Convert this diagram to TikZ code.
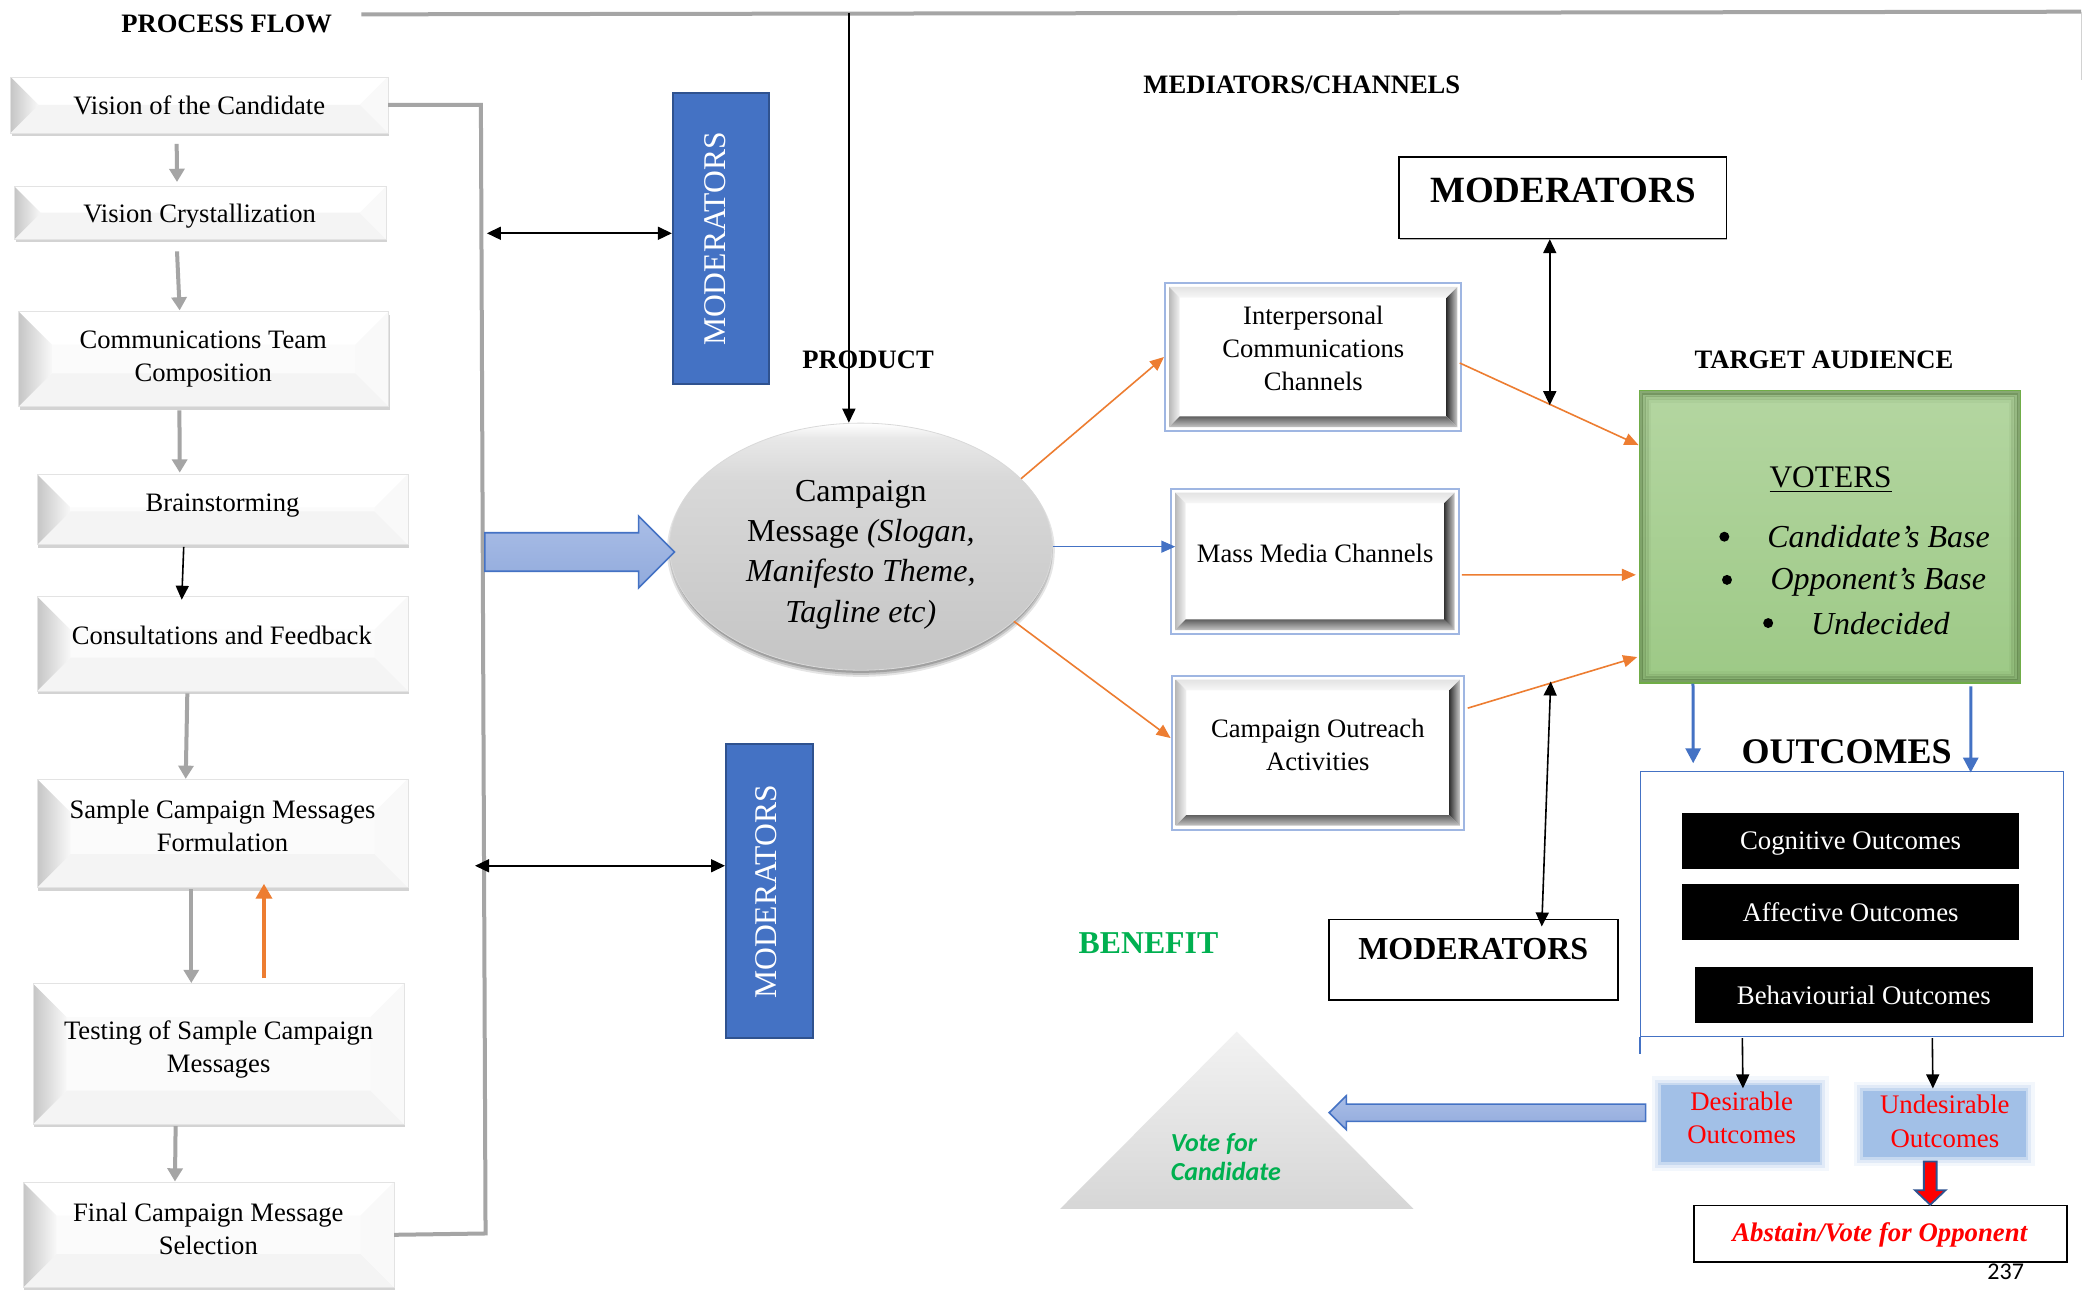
\documentclass[tikz,border=0pt]{standalone}
\usepackage{fontspec}
\setmainfont{Liberation Serif}
\newfontfamily\calfont{Carlito}
\usetikzlibrary{calc,fit,shapes.geometric,arrows.meta,shadows}

\definecolor{flowgray}{HTML}{A5A5A5}
\definecolor{orng}{HTML}{ED7D31}
\definecolor{mblue}{HTML}{4472C4}
\definecolor{dblue}{HTML}{2F528F}
\definecolor{frameblue}{HTML}{9FB6E2}
\definecolor{arrowfill}{HTML}{91AADC}
\definecolor{arrowfilltop}{HTML}{AABEE7}
\definecolor{benefitgreen}{HTML}{00B050}
\definecolor{gborder}{HTML}{70AD47}
\definecolor{gtop}{HTML}{B4D6A1}
\definecolor{gbot}{HTML}{9DC986}
\definecolor{gdark}{HTML}{385723}
\definecolor{outcomeblue}{HTML}{A2C0E7}
\definecolor{alertred}{HTML}{FF0000}

\colorlet{ellA}{gray!46}
\colorlet{ellB}{gray!38}
\colorlet{ellC}{gray!30}
\colorlet{ellD}{gray!18}
\pgfdeclareverticalshading{ellgray}{100bp}{color(0bp)=(ellA); color(25bp)=(ellA); color(45bp)=(ellB); color(64bp)=(ellC); color(72bp)=(ellD); color(75bp)=(white); color(100bp)=(white)}

% one unit = one pixel of the layout grid
\newcommand\upx{0.6642pt}

% horizontal block arrow: [style]{from}{to}{shaft half width}{head half width}{head length}
\newcommand\hblockarrow[6][]{%
  \draw[#1] ($(#2)+(0,{-(#4)})$) -- ($(#3)+({-(#6)},{-(#4)})$) -- ($(#3)+({-(#6)},{-(#5)})$)
    -- (#3) -- ($(#3)+({-(#6)},#5)$) -- ($(#3)+({-(#6)},#4)$) -- ($(#2)+(0,#4)$) -- cycle;}
% vertical block arrow, same arguments
\newcommand\vblockarrow[6][]{%
  \draw[#1] ($(#2)+({-(#4)},0)$) -- ($(#3)+({-(#4)},{-(#6)})$) -- ($(#3)+({-(#5)},{-(#6)})$)
    -- (#3) -- ($(#3)+(#5,{-(#6)})$) -- ($(#3)+(#4,{-(#6)})$) -- ($(#2)+(#4,0)$) -- cycle;}

\begin{document}
\begin{tikzpicture}[x=\upx, y=-\upx,
  % bevelled process step box, #1 = bevel depth
  lbox/.style={fill=gray!3, draw=gray!22, line width=0.3pt, inner sep=0pt,
    drop shadow={shadow xshift=0.6pt, shadow yshift=-1.6pt, opacity=0.45, fill=gray!75},
    path picture={
      \path (path picture bounding box.north west) coordinate (pnw)
            (path picture bounding box.north east) coordinate (pne)
            (path picture bounding box.south east) coordinate (pse)
            (path picture bounding box.south west) coordinate (psw);
      \fill[white] (pnw) -- ($(pnw)+(#1,#1)$) -- ($(pne)+(-#1,#1)$) -- (pne) -- cycle;
      \fill[gray!9] (psw) -- ($(psw)+(#1,-#1)$) -- ($(pse)+(-#1,-#1)$) -- (pse) -- cycle;
      \fill[gray!5] (pne) -- ($(pne)+(-#1,#1)$) -- ($(pse)+(-#1,-#1)$) -- (pse) -- cycle;
      \shade[left color=gray!45, right color=gray!5] (pnw) -- ($(pnw)+(#1,#1)$) -- ($(psw)+(#1,-#1)$) -- (psw) -- cycle;
    }},
  % channel box with a bevelled frame
  chbox/.style={draw=frameblue, line width=1.1pt, fill=white, inner sep=0pt,
    path picture={
      \path (path picture bounding box.north west) coordinate (pnw)
            (path picture bounding box.north east) coordinate (pne)
            (path picture bounding box.south east) coordinate (pse)
            (path picture bounding box.south west) coordinate (psw);
      \path ($(pnw)+(3,3)$) coordinate (qA) ($(pne)+(-3,3)$) coordinate (qB)
            ($(pse)+(-3,-3)$) coordinate (qC) ($(psw)+(3,-3)$) coordinate (qD)
            ($(pnw)+(11,11)$) coordinate (qa) ($(pne)+(-11,11)$) coordinate (qb)
            ($(pse)+(-11,-11)$) coordinate (qc) ($(psw)+(11,-11)$) coordinate (qd);
      \shade[top color=gray!22, bottom color=gray!6] (qA) -- (qB) -- (qb) -- (qa) -- cycle;
      \shade[left color=gray!55, right color=gray!10] (qA) -- (qa) -- (qd) -- (qD) -- cycle;
      \shade[left color=black!80, right color=gray!40] (qb) -- (qB) -- (qC) -- (qc) -- cycle;
      \shade[top color=black!62, bottom color=gray!45] (qd) -- (qc) -- (qC) -- (qD) -- cycle;
    }},
  tabox/.style={draw=gborder, line width=0.8pt, top color=gtop, bottom color=gbot, inner sep=0pt,
    path picture={
      \path (path picture bounding box.north west) coordinate (pnw)
            (path picture bounding box.south east) coordinate (pse);
      \foreach \k/\o in {1.5/0.36, 3.5/0.22, 5.5/0.12, 7.5/0.05}
        \draw[gdark, opacity=\o, line width=2pt] ($(pnw)+(\k,\k)$) rectangle ($(pse)+(-\k,-\k)$);
    }},
  modbox/.style={fill=mblue, draw=dblue, line width=1pt, inner sep=0pt},
  modtxt/.style={text=white, inner sep=0pt, rotate=90, font=\fontsize{15.8}{18}\selectfont},
  plainbox/.style={draw=black, line width=0.8pt, fill=white, inner sep=0pt},
  obox/.style={fill=black, inner sep=0pt},
  otxt/.style={text=white, inner sep=0pt, text depth=0pt, font=\fontsize{13.4}{16}\selectfont},
  bullet/.style={circle, fill=black, inner sep=0pt, minimum size=7.5*\upx},
  blurbox/.style={fill=outcomeblue, inner sep=0pt,
    preaction={draw=outcomeblue, line width=9pt, opacity=0.12},
    preaction={draw=outcomeblue, line width=5.5pt, opacity=0.22},
    preaction={draw=outcomeblue, line width=2.5pt, opacity=0.4}},
  ltxt/.style={align=center, inner sep=0pt, font=\fontsize{13.3}{16.6}\selectfont},
  hdr/.style={inner sep=0pt, text depth=0pt, font=\bfseries\fontsize{13.3}{16}\selectfont},
  grayline/.style={draw=flowgray, line width=2pt},
  grayarr/.style={draw=flowgray, line width=2pt, -{Triangle[length=6.6pt, width=7.5pt]}},
  blkarr/.style={draw=black, line width=0.8pt, -{Triangle[length=7pt, width=6.5pt]}},
  dblarr/.style={draw=black, line width=0.8pt, {Triangle[length=7pt, width=6.5pt]}-{Triangle[length=7pt, width=6.5pt]}},
  orarr/.style={draw=orng, line width=0.8pt, -{Triangle[length=7pt, width=6pt]}},
  orthick/.style={draw=orng, line width=2pt, -{Triangle[length=7.5pt, width=8pt]}},
  bluearr/.style={draw=mblue, line width=0.8pt, -{Triangle[length=7pt, width=6pt]}},
  bluethick/.style={draw=mblue, line width=1.5pt, -{Triangle[length=7.5pt, width=7.5pt]}},
  blockblue/.style={draw=mblue, line width=0.8pt, top color=arrowfilltop, bottom color=arrowfill},
  redblock/.style={fill=alertred, draw=dblue, line width=0.9pt}
]
\useasboundingbox (0,0) rectangle (1568,972.6);
\fill[white] (0,0) rectangle (1568,972.6);

% ---------------- headings ----------------
\node[hdr] (pf) at (170.6,17.6) {PROCESS FLOW};
\node[hdr] (mc) at (980,64) {MEDIATORS/CHANNELS};
\node[hdr] (pr) at (653.4,271) {PRODUCT};
\node[hdr] (tah) at (1373,271) {TARGET AUDIENCE};
\node[hdr, text=benefitgreen, font=\bfseries\fontsize{15.9}{18}\selectfont] (ben) at (864.5,710) {BENEFIT};
\node[hdr, font=\bfseries\fontsize{18}{20}\selectfont] (outh) at (1390,565.5) {OUTCOMES};

% top rule
\coordinate (hdL) at (272,10.8);
\coordinate (hdR) at (1566.6,8.8);
\coordinate (hdD) at (1566.6,60);
\coordinate (hdP) at (639,9.7);
\draw[grayline] (hdL) -- (hdR);
\draw[gray!35, line width=0.6pt] (hdR) -- (hdD);

% ---------------- process flow ----------------
\node[lbox=21, fit={(8,58) (292,100)}] (b1) {};
\node[ltxt] (b1t) at (150,79) {Vision of the Candidate};
\node[lbox=20, fit={(11,140.5) (290.5,180)}] (b2) {};
\node[ltxt] (b2t) at (150.3,163) {Vision Crystallization};
\node[lbox=25, fit={(14,234.5) (292.5,306)}] (b3) {};
\node[ltxt] (b3t) at (153,270.3) {Communications Team\\Composition};
\node[lbox=25, fit={(28,357) (307,410)}] (b4) {};
\node[ltxt] (b4t) at (167.5,380.6) {Brainstorming};
\node[lbox=25, fit={(28,449) (307,520)}] (b5) {};
\node[ltxt] (b5t) at (167,478) {Consultations and Feedback};
\node[lbox=25, fit={(28,586.5) (307,668)}] (b6) {};
\node[ltxt] (b6t) at (167.5,621.5) {Sample Campaign Messages\\Formulation};
\node[lbox=25, fit={(25,740.5) (304,846)}] (b7) {};
\node[ltxt] (b7t) at (164.6,790) {Testing of Sample Campaign\\Messages};
\node[lbox=25, fit={(17.5,890) (296.5,969)}] (b8) {};
\node[ltxt] (b8t) at (156.8,925) {Final Campaign Message\\Selection};

\draw[grayarr] ($(b1.south)+(-17,8)$) -- ($(b2.north)+(-17.5,-3.3)$);
\draw[grayarr] ($(b2.south)+(-17.5,9)$) -- ($(b3.north)+(-18,-0.6)$);
\draw[grayarr] ($(b3.south)+(-18.2,2.6)$) -- ($(b4.north)+(-32.2,-1)$);
\draw[blkarr] ($(b4.south)+(-29.2,1.5)$) -- ($(b5.north)+(-30.7,2.7)$);
\draw[grayarr] ($(b5.south)+(-26.5,1.7)$) -- ($(b6.north)+(-27.7,0)$);
\draw[grayarr] ($(b6.south)+(-23.5,1)$) -- ($(b7.north)+(-20.5,-0.3)$);
\draw[orthick] ($(b7.north)+(34.2,-4)$) -- ($(b6.south)+(31.2,-3)$);
\draw[grayarr] ($(b7.south)+(-32.3,1.4)$) -- ($(b8.north)+(-25.3,-0.4)$);

% feedback bracket
\coordinate (brT) at (362,79);
\coordinate (brB) at (365.5,928.5);
\draw[grayline] (b1.east) -- (brT) -- (brB) -- (b8.east);

% ---------------- moderators beside the flow ----------------
\node[modbox, fit={(506.5,70.3) (579,289)}] (mod1) {};
\node[modtxt] (mod1t) at (538.3,180) {MODERATORS};
\node[modbox, fit={(546.5,560.3) (612.3,781.6)}] (mod2) {};
\node[modtxt] (mod2t) at (577,671.5) {MODERATORS};
\coordinate (brM1) at (366.5,175.6);
\coordinate (brM2) at (357.6,651.7);
\draw[dblarr] (brM1) -- (brM1 -| mod1.west);
\draw[dblarr] (brM2) -- (brM2 -| mod2.west);

% ---------------- campaign message ----------------
\foreach \r/\o in {5/0.10, 3.5/0.14, 2/0.18}
  \fill[black, opacity=\o] (648,414.5) ellipse [x radius={143+\r-2}, y radius={92+\r-2}];
\node[ellipse, shade, shading=ellgray, draw=gray!30, line width=0.4pt,
      minimum width=288*\upx, minimum height=186*\upx, inner sep=0pt] (ell) at (648,411.5) {};
\node[align=center, inner sep=0pt, font=\fontsize{16}{20.1}\selectfont] (ellt) at (648,417.5)
  {Campaign\\Message \textit{(Slogan,}\\\textit{Manifesto Theme,}\\\textit{Tagline etc)}};

\draw[blkarr] (hdP) -- (hdP |- ell.north);

\coordinate (blkS) at (365,415.5);
\coordinate (blkT) at ($(blkS -| ell.west)+(4,0)$);
\hblockarrow[blockblue]{blkS}{blkT}{14.5}{27}{27}

% ---------------- channels ----------------
\node[chbox, fit={(877,213) (1100,324.5)}] (ip) {};
\node[ltxt] (ipt) at (988.6,262.2) {Interpersonal\\Communications\\Channels};
\node[chbox, fit={(881.5,367.8) (1098,477.3)}] (mm) {};
\node[ltxt] (mmt) at (990,416.5) {Mass Media Channels};
\node[chbox, fit={(882,508.6) (1102,624.5)}] (oa) {};
\node[ltxt] (oat) at (992,561) {Campaign Outreach\\Activities};

\draw[orarr] (ell.23) -- (ip.west);
\draw[bluearr] (ell.east) -- ($(ell.east -| mm.west)+(4,0)$);
\draw[orarr] (ell.-26) -- ($(oa.west)+(0,-11)$);

% ---------------- moderators of the channels ----------------
\node[plainbox, fit={(1053,118) (1299.7,179.4)},
      drop shadow={shadow xshift=0.4pt, shadow yshift=-1pt, opacity=0.6, fill=gray}] (tm) {};
\node[inner sep=0pt, text depth=0pt, font=\bfseries\fontsize{18.5}{20}\selectfont] (tmt) at (1176.6,143) {MODERATORS};
\node[plainbox, fit={(1000.5,692) (1218,752.8)}] (bm) {};
\node[inner sep=0pt, text depth=0pt, font=\bfseries\fontsize{16}{18}\selectfont] (bmt) at (1109,714.5) {MODERATORS};

% ---------------- target audience ----------------
\node[tabox, fit={(1234,294) (1521,514)}] (ta) {};
\node[inner sep=0pt, font=\fontsize{15.7}{18}\selectfont] (vot) at (1378,361) {\underline{VOTERS}};
\node[bullet] (bu1) at (1298,404) {};
\node[bullet] (bu2) at (1300,436.5) {};
\node[bullet] (bu3) at (1331,469) {};
\node[anchor=west, inner sep=0pt, text depth=0pt, font=\itshape\fontsize{16}{18}\selectfont] (it1) at (1330,404) {Candidate’s Base};
\node[anchor=west, inner sep=0pt, text depth=0pt, font=\itshape\fontsize{16}{18}\selectfont] (it2) at (1332.5,436) {Opponent’s Base};
\node[anchor=west, inner sep=0pt, text depth=0pt, font=\itshape\fontsize{16}{18}\selectfont] (it3) at (1363,469) {Undecided};

\draw[orarr] ($(ip.east)+(-2,4.5)$) -- ($(ta.west)+(0,-69)$);
\draw[orarr] ($(mm.east)+(1.6,10.2)$) -- ($(ta.west)+(-2,28.7)$);
\draw[orarr] ($(oa.east)+(2,-33.5)$) -- ($(ta.west)+(-1,90.6)$);

\coordinate (mA) at (1166.6,305);
\coordinate (mB) at (1167.3,513);
\draw[dblarr] (tm.south -| mA) -- (mA);
\draw[dblarr] (mB) -- ($(bm.north)+(51.3,6)$);

% ---------------- outcomes ----------------
\node[draw=mblue, line width=0.6pt, inner sep=0pt, fit={(1235,581) (1553.5,780)}] (of) {};
\draw[mblue, line width=0.6pt] (of.south west) -- ++(0,12.8);
\node[obox, fit={(1266,612) (1520,654)}] (cog) {};
\node[otxt] (cogt) at (1393,633) {Cognitive Outcomes};
\node[obox, fit={(1266,665.5) (1520,707.6)}] (aff) {};
\node[otxt] (afft) at (1393,686.5) {Affective Outcomes};
\node[obox, fit={(1276,728) (1530,770)}] (beh) {};
\node[otxt] (beht) at (1403,749) {Behaviourial Outcomes};

\draw[bluethick] ($(ta.south west)+(41,0)$) -- ($(of.north west)+(40,-6)$);
\draw[bluethick] ($(ta.south east)+(-38,2)$) -- ($(of.north east)+(-70.5,1)$);

\node[blurbox, fit={(1250,817) (1370,875)}] (des) {};
\node[align=center, inner sep=0pt, text=alertred, font=\fontsize{13.4}{16.6}\selectfont] (dest) at (1311,841.5) {Desirable\\Outcomes};
\node[blurbox, fit={(1402,821) (1525,871)}] (und) {};
\node[align=center, inner sep=0pt, text=alertred, font=\fontsize{13.4}{16.6}\selectfont] (undt) at (1464,844) {Undesirable\\Outcomes};

\draw[blkarr] ($(of.south west)+(77,1)$) -- ($(des.north)+(2,2.6)$);
\draw[blkarr] ($(of.south west)+(220,1)$) -- ($(und.north)+(-8.5,-1.4)$);

\node[plainbox, fit={(1275,907.5) (1556,950)}] (ab) {};
\node[inner sep=0pt, text depth=0pt, text=alertred, font=\bfseries\itshape\fontsize{13.4}{16}\selectfont] (abt) at (1415,927.5) {Abstain/Vote for Opponent};
\node[inner sep=0pt, text depth=0pt, font=\calfont\fontsize{12}{14}\selectfont] (pg) at (1509.8,957.6) {237};

\coordinate (rdS) at ($(und.south)+(-10.5,3)$);
\coordinate (rdT) at (rdS |- ab.north);
\vblockarrow[redblock]{rdS}{rdT}{4.8}{11.5}{11}

% ---------------- benefit ----------------
\coordinate (trA) at (931,776.5);
\coordinate (trL) at (798,910);
\coordinate (trR) at (1064,910);
\shade[top color=gray!10, bottom color=gray!32] (trA) -- (trR) -- (trL) -- cycle;
\node[anchor=west, align=left, inner sep=0pt, text=benefitgreen,
      font=\calfont\bfseries\itshape\fontsize{13}{14.6}\selectfont] (vfc) at (881,870.8) {Vote for\\Candidate};

\coordinate (bbS) at ($(des.west)+(-11,-8.4)$);
\coordinate (bbT) at (1000.5,837.6);
\hblockarrow[blockblue]{bbS}{bbT}{6.5}{12.8}{-13}

\end{tikzpicture}
\end{document}
